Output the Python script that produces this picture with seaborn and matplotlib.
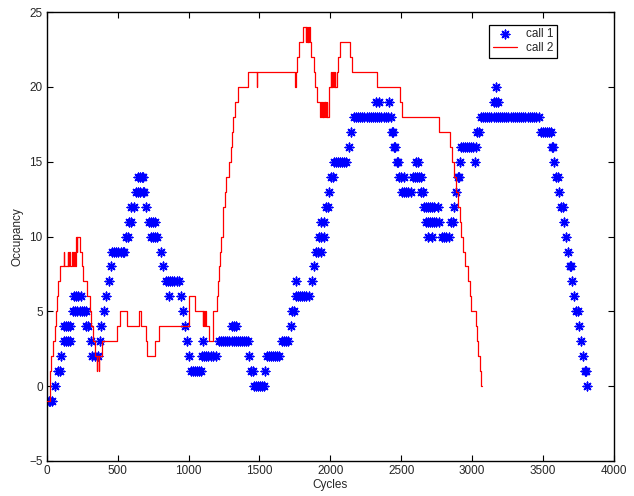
import numpy as np
import pandas as pd
import matplotlib
matplotlib.use("Agg")
import matplotlib.pyplot as plt
import seaborn as sns

# call 1: occupancy samples (asterisks)
call1_x = [
    0, 12, 24, 36,
    55,
    80, 90,
    98,
    120, 135, 150, 160,
    120, 135, 150, 165,
    185, 200, 215, 230, 245, 260, 275,
    190, 205, 220, 240,
    275, 290,
    310, 375,
    320, 340, 360,
    385,
    400,
    420,
    437,
    450,
    460, 475, 490, 505, 520, 535, 545,
    555, 570,
    578, 592,
    592, 612,
    628, 645, 660, 675, 685,
    642, 655, 668, 678,
    698,
    720, 735, 750, 765,
    733, 748, 763, 778,
    804,
    818,
    840, 855, 870, 885, 900, 915, 930,
    860, 948,
    962,
    973,
    988, 1104,
    1005, 1095, 1110, 1125, 1140, 1155, 1170, 1190,
    1015, 1030, 1045, 1060, 1075, 1087,
    # second hump
    1213, 1228, 1243, 1258, 1273, 1288, 1303, 1318, 1333, 1348, 1363, 1378, 1393, 1408, 1418,
    1305, 1320, 1335,
    1425,
    1440, 1455,
    1460, 1475, 1490, 1505, 1520, 1531,
    1542,
    1552, 1567, 1582, 1597, 1612, 1627, 1637,
    1658, 1672, 1686, 1700,
    1721,
    1728, 1743,
    1756, 1771, 1786, 1801, 1816, 1831, 1849,
    1760, 1870,
    1883,
    1897, 1912, 1933,
    1919, 1934, 1954,
    1933, 1954,
    1968, 1983,
    1990,
    2003, 2018,
    2024, 2039, 2054, 2069, 2084, 2099, 2110,
    2130,
    2144,
    2166, 2181, 2196, 2211, 2226, 2241, 2256, 2271, 2286, 2301, 2316, 2331, 2346, 2361, 2376, 2391, 2406, 2427,
    2321, 2342, 2413,
    # wobble and last plateau
    2434, 2441,
    2448, 2455,
    2470, 2476, 2603, 2618,
    2483, 2498, 2519, 2582, 2597, 2612, 2627, 2639,
    2504, 2519, 2534, 2550, 2568, 2638, 2653,
    2659, 2674, 2689, 2704, 2719, 2734, 2759,
    2674, 2689, 2704, 2719, 2734, 2749, 2766,
    2690, 2715, 2786, 2800, 2815, 2836,
    2850, 2864,
    2871,
    2889,
    2900, 2907,
    2914, 3019,
    2920, 2935, 2950, 2965, 2980, 2995, 3010, 3027,
    3033, 3048,
    3062, 3077, 3092, 3107, 3122, 3137, 3152, 3167, 3182, 3197, 3212, 3227, 3242, 3257,
    3272, 3287, 3302, 3317, 3332, 3347, 3362, 3377, 3392, 3407, 3422, 3437, 3452, 3472,
    3153, 3168, 3182,
    3172,
    3485, 3500, 3515, 3530, 3545, 3556,
    3562, 3570,
    3576,
    3590, 3605,
    3612,
    3626, 3640,
    3647,
    3661,
    3679,
    3690, 3697,
    3704,
    3718,
    3732, 3746,
    3753,
    3767,
    3781,
    3795, 3805,
    3812,
]
call1_y = [
    -1, -1, -1, -1,
    0,
    1, 1,
    2,
    3, 3, 3, 3,
    4, 4, 4, 4,
    5, 5, 5, 5, 5, 5, 5,
    6, 6, 6, 6,
    4, 4,
    3, 3,
    2, 2, 2,
    4,
    5,
    6,
    7,
    8,
    9, 9, 9, 9, 9, 9, 9,
    10, 10,
    11, 11,
    12, 12,
    13, 13, 13, 13, 13,
    14, 14, 14, 14,
    12,
    11, 11, 11, 11,
    10, 10, 10, 10,
    9,
    8,
    7, 7, 7, 7, 7, 7, 7,
    6, 6,
    5,
    4,
    3, 3,
    2, 2, 2, 2, 2, 2, 2, 2,
    1, 1, 1, 1, 1, 1,
    # second hump
    3, 3, 3, 3, 3, 3, 3, 3, 3, 3, 3, 3, 3, 3, 3,
    4, 4, 4,
    2,
    1, 1,
    0, 0, 0, 0, 0, 0,
    1,
    2, 2, 2, 2, 2, 2, 2,
    3, 3, 3, 3,
    4,
    5, 5,
    6, 6, 6, 6, 6, 6, 6,
    7, 7,
    8,
    9, 9, 9,
    10, 10, 10,
    11, 11,
    12, 12,
    13,
    14, 14,
    15, 15, 15, 15, 15, 15, 15,
    16,
    17,
    18, 18, 18, 18, 18, 18, 18, 18, 18, 18, 18, 18, 18, 18, 18, 18, 18, 18,
    19, 19, 19,
    # wobble and last plateau
    17, 17,
    16, 16,
    15, 15, 15, 15,
    14, 14, 14, 14, 14, 14, 14, 14,
    13, 13, 13, 13, 13, 13, 13,
    12, 12, 12, 12, 12, 12, 12,
    11, 11, 11, 11, 11, 11, 11,
    10, 10, 10, 10, 10, 10,
    11, 11,
    12,
    13,
    14, 14,
    15, 15,
    16, 16, 16, 16, 16, 16, 16, 16,
    17, 17,
    18, 18, 18, 18, 18, 18, 18, 18, 18, 18, 18, 18, 18, 18,
    18, 18, 18, 18, 18, 18, 18, 18, 18, 18, 18, 18, 18, 18,
    19, 19, 19,
    20,
    17, 17, 17, 17, 17, 17,
    16, 16,
    15,
    14, 14,
    13,
    12, 12,
    11,
    10,
    9,
    8, 8,
    7,
    6,
    5, 5,
    4,
    3,
    2,
    1, 1,
    0,
]

# call 2: step trace, value holds from each x until the next one
call2_x = [
    0, 20, 24, 32, 40, 56, 61, 68, 80, 92,
    120, 124, 147, 151, 157, 161, 177, 181, 191, 195, 203, 212, 215, 232,
    245, 256, 280, 303, 308, 327, 339, 352, 356, 366, 370, 386,
    492, 515, 567, 652, 661, 698, 703, 762, 790,
    1005, 1044, 1100, 1105, 1110, 1118, 1122, 1145,
    1175, 1197, 1210, 1216, 1225, 1232, 1240, 1244, 1256, 1263, 1286, 1296,
    1305, 1315, 1325, 1345, 1418, 1480, 1486,
    1752, 1756, 1762, 1780, 1809, 1827, 1830, 1836, 1839, 1845, 1848,
    1855, 1867, 1884, 1895, 1907, 1926,
    1936, 1939, 1946, 1949, 1956, 1959, 1966, 1969, 1976, 1979,
    1992, 2002, 2005, 2012, 2015, 2022, 2025, 2032, 2035,
    2044, 2055, 2067, 2074, 2138, 2150, 2157, 2330,
    2495, 2507, 2765, 2848, 2862, 2871, 2885, 2902, 2912, 2925, 2937, 2954,
    2972, 2984, 2996, 3026, 3036, 3043, 3055, 3066, 3073,
]
call2_y = [
    -1, 0, 1, 2, 3, 4, 5, 6, 7, 8,
    9, 8, 9, 8, 9, 8, 9, 8, 9, 8, 10, 9, 10, 9,
    8, 7, 6, 5, 4, 3, 2, 1, 2, 1, 2, 3,
    4, 5, 4, 5, 4, 3, 2, 3, 4,
    6, 5, 4, 5, 4, 5, 4, 3,
    5, 6, 7, 8, 9, 10, 11, 12, 13, 14, 15, 16,
    17, 18, 19, 20, 21, 20, 21,
    20, 21, 22, 23, 24, 23, 24, 23, 24, 23, 24,
    23, 22, 21, 20, 19, 18,
    19, 18, 19, 18, 19, 18, 19, 18, 19, 18,
    20, 21, 20, 21, 20, 21, 20, 21, 20,
    21, 22, 23, 23, 22, 21, 21, 20,
    19, 18, 17, 16, 15, 14, 13, 12, 11, 10, 9, 8,
    7, 6, 5, 4, 3, 2, 1, 0, 0,
]

x_ticks = [0, 500, 1000, 1500, 2000, 2500, 3000, 3500, 4000]
y_ticks = [-5, 0, 5, 10, 15, 20, 25]

assert len(call1_x) == len(call1_y)
assert len(call2_x) == len(call2_y)

call1_df = pd.DataFrame({"Cycles": call1_x, "Occupancy": call1_y})
call2_df = pd.DataFrame({"Cycles": call2_x, "Occupancy": call2_y})

sns.set_theme(style="ticks")
plt.rcParams['font.family'] = ['Liberation Sans', 'DejaVu Sans']
plt.rcParams['xtick.direction'] = 'in'
plt.rcParams['ytick.direction'] = 'in'

fig = plt.figure(figsize=(6.34, 4.96), dpi=100)
ax = fig.add_axes([0.074, 0.0706, 0.894, 0.905])

sns.scatterplot(data=call1_df, x="Cycles", y="Occupancy", ax=ax,
                marker=(8, 2, 0), s=38, color="blue", edgecolor="blue",
                linewidth=1.1, label="call 1", zorder=2)
sns.lineplot(data=call2_df, x="Cycles", y="Occupancy", ax=ax,
             sort=False, estimator=None, color="red", linewidth=0.9,
             drawstyle="steps-post", label="call 2", zorder=3)

ax.set_xlim(0, 4000)
ax.set_ylim(-5, 25)
ax.set_xticks(x_ticks)
ax.set_yticks(y_ticks)
ax.tick_params(axis="both", labelsize=8.5, length=4, width=0.8, color="black",
               top=True, right=True, pad=3)
for sp in ax.spines.values():
    sp.set_visible(True)
    sp.set_color("black")
    sp.set_linewidth(1.0)
ax.set_xlabel("Cycles", fontsize=8.5, labelpad=1)
ax.set_ylabel("Occupancy", fontsize=8.5, labelpad=4)

leg = ax.legend(loc="upper right", bbox_to_anchor=(0.9, 0.972), fontsize=8.5,
                fancybox=False, framealpha=1, edgecolor="black",
                borderpad=0.3, labelspacing=0.15, handletextpad=0.8,
                handlelength=2.0, borderaxespad=0)
leg.get_frame().set_linewidth(0.9)

fig.savefig("out.png", dpi=100)
